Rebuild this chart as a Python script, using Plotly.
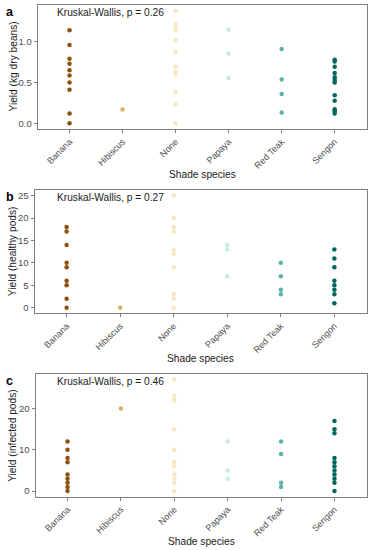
import plotly.graph_objects as go

categories = ["Banana", "Hibiscus", "None", "Papaya", "Red Teak", "Sengon"]
colors = ["#8C510A", "#D8B365", "#F6E8C3", "#C7EAE5", "#5AB4AC", "#01665E"]

# Panel a: Yield (kg dry beans)
beans = {
    "Banana": [1.14, 0.96, 0.79, 0.73, 0.65, 0.585, 0.50, 0.41, 0.12, 0.0],
    "Hibiscus": [0.17],
    "None": [1.38, 1.21, 1.17, 1.14, 1.02, 0.87, 0.69, 0.63, 0.60, 0.38, 0.23, 0.0],
    "Papaya": [1.145, 0.855, 0.556],
    "Red Teak": [0.91, 0.536, 0.36, 0.133],
    "Sengon": [0.778, 0.758, 0.694, 0.617, 0.565, 0.532, 0.50, 0.343, 0.278, 0.173, 0.149, 0.121],
}
# Panel b: Yield (healthy pods)
healthy = {
    "Banana": [18, 17, 14, 10, 9, 6, 5, 2, 0],
    "Hibiscus": [0],
    "None": [25, 20, 18, 17, 13, 12, 9, 3, 2, 0],
    "Papaya": [14, 13, 7],
    "Red Teak": [10, 7, 4, 3],
    "Sengon": [13, 11, 9, 6, 5, 4, 3, 1],
}
# Panel c: Yield (infected pods)
infected = {
    "Banana": [12, 10, 8, 7, 4, 3, 2, 1, 0],
    "Hibiscus": [20],
    "None": [27, 23, 22, 15, 10, 7, 6, 4, 3, 2, 0],
    "Papaya": [12, 5, 3],
    "Red Teak": [12, 9, 2, 1],
    "Sengon": [17, 15, 14, 8, 7, 6, 5, 4, 3, 2, 0],
}

panels = [
    dict(data=beans, label="a", ytitle="Yield (kg dry beans)", p="Kruskal-Wallis, p = 0.26",
         yr=[-0.069, 1.449], tickvals=[0, 0.5, 1.0], ticktext=["0.0", "0.5", "1.0"],
         top=5, bottom=129, left=37.7, xt=174),
    dict(data=healthy, label="b", ytitle="Yield (healthy pods)", p="Kruskal-Wallis, p = 0.27",
         yr=[-1.25, 26.25], tickvals=[0, 5, 10, 15, 20, 25], ticktext=["0", "5", "10", "15", "20", "25"],
         top=190, bottom=313.3, left=34.5, xt=358),
    dict(data=infected, label="c", ytitle="Yield (infected pods)", p="Kruskal-Wallis, p = 0.46",
         yr=[-1.35, 28.35], tickvals=[0, 10, 20], ticktext=["0", "10", "20"],
         top=374, bottom=496.7, left=35.5, xt=541.5),
]

W, H = 372, 550
FONT = "Arial, Liberation Sans, sans-serif"
fig = go.Figure()
annotations = []
layout = {}
for i, pn in enumerate(panels):
    n = "" if i == 0 else str(i + 1)
    xa, ya = "x" + n, "y" + n
    for c, col in zip(categories, colors):
        vals = pn["data"][c]
        fig.add_trace(go.Scatter(
            x=[c] * len(vals), y=vals, mode="markers", xaxis=xa, yaxis=ya,
            marker=dict(color=col, size=4.5, line=dict(width=0)), showlegend=False,
            hoverinfo="x+y"))
    right = 366.5
    layout["xaxis" + n] = dict(
        domain=[pn["left"] / W, right / W], anchor=ya, type="category",
        categoryorder="array", categoryarray=categories, range=[-0.6, 5.6],
        showline=True, mirror=True, linecolor="#7f7f7f", linewidth=1,
        showgrid=False, zeroline=False, ticks="outside", ticklen=3, tickcolor="#7f7f7f",
        tickangle=-45, tickfont=dict(family=FONT, size=9, color="#4d4d4d"))
    layout["yaxis" + n] = dict(
        domain=[1 - pn["bottom"] / H, 1 - pn["top"] / H], anchor=xa, range=pn["yr"],
        tickvals=pn["tickvals"], ticktext=pn["ticktext"],
        showline=True, mirror=True, linecolor="#7f7f7f", linewidth=1,
        showgrid=False, zeroline=False, ticks="outside", ticklen=3, tickcolor="#7f7f7f",
        tickfont=dict(family=FONT, size=9.5, color="#4d4d4d"))
    ymid = 1 - (pn["top"] + pn["bottom"]) / 2 / H
    annotations.append(dict(xref="paper", yref="paper", x=12.5 / W, y=ymid, text=pn["ytitle"],
                            textangle=-90, showarrow=False, xanchor="center", yanchor="middle",
                            font=dict(family=FONT, size=10.2, color="#1a1a1a")))
    annotations.append(dict(xref="paper", yref="paper", x=(pn["left"] + right) / 2 / W,
                            y=1 - pn["xt"] / H, text="Shade species", showarrow=False,
                            xanchor="center", yanchor="middle",
                            font=dict(family=FONT, size=10.2, color="#1a1a1a")))
    annotations.append(dict(xref="paper", yref="paper", x=55 / W, y=1 - (pn["top"] + 7) / H,
                            text=pn["p"], showarrow=False, xanchor="left", yanchor="middle",
                            font=dict(family=FONT, size=10.2, color="#1a1a1a")))
    annotations.append(dict(xref="paper", yref="paper", x=4 / W, y=1 - (pn["top"] + 7) / H,
                            text="<b>" + pn["label"] + "</b>", showarrow=False,
                            xanchor="left", yanchor="middle",
                            font=dict(family=FONT, size=12.5, color="#000000")))

fig.update_layout(width=W, height=H, margin=dict(l=0, r=0, t=0, b=0),
                  paper_bgcolor="white", plot_bgcolor="white",
                  annotations=annotations, **layout)
fig.write_html("out.html", config={"displayModeBar": False},
               post_script="document.body.style.margin='0';document.body.style.overflow='hidden';")
